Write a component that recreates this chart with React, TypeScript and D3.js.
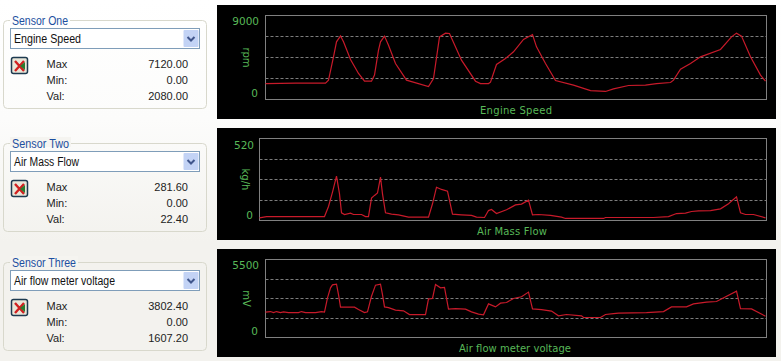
import React from "react";
import * as d3 from "d3";

const sensorTitles = ["Sensor One", "Sensor Two", "Sensor Three"];
const channelNames = ["Engine Speed", "Air Mass Flow", "Air flow meter voltage"];
const units = ["rpm", "kg/h", "mV"];
const axisMax = [9000, 520, 5500];
const readMax = ["7120.00", "281.60", "3802.40"];
const readMin = ["0.00", "0.00", "0.00"];
const readVal = ["2080.00", "22.40", "1607.20"];

const engineT = [0,30,60,63,68,71,75,78,85,93,99,106,109,113,115,119,123,130,141,163,168,174,180,184,196,210,215,223,225,231,240,248,258,267,271,280,290,308,325,340,348,363,380,391,405,408,415,425,435,455,466,471,476,485,495,500];
const engineV = [1710,1750,1750,2070,4570,6180,6820,6180,4290,2790,1960,1960,2610,5290,6180,6790,5820,3860,2070,1390,2250,6710,7110,7070,4210,1960,1710,1710,1850,3750,4390,5110,6430,6960,5640,3860,2040,1540,960,860,1140,1500,1540,1710,1820,2070,3250,3860,4570,5360,6710,7110,6790,4570,2610,1960];

const airT = [0,7,36,65,69,73,77,80,82,85,91,94,102,106,109,112,115,118,121,123,126,132,139,149,169,173,177,182,188,193,202,212,217,225,229,232,237,247,256,262,269,273,279,291,302,306,344,346,394,409,417,426,432,439,451,461,469,477,481,486,494,506];
const airV = [17,25,25,25,89,180,281,169,49,38,47,38,38,25,25,142,159,175,275,169,49,40,36,21,21,106,211,197,186,40,36,32,21,19,63,70,44,68,99,104,129,36,38,32,21,13,13,19,19,25,44,47,57,61,63,74,106,150,49,38,38,17];

const voltT = [0,5,8,11,15,18,23,33,36,40,50,56,59,62,65,67,71,73,75,89,93,99,102,106,110,115,117,119,123,130,138,144,160,163,167,170,175,179,183,190,200,206,213,218,223,230,235,241,248,256,263,267,276,286,293,301,316,318,335,340,348,353,381,398,406,421,428,441,451,471,475,486,500];
const voltV = [1790,1830,1760,1830,1760,1810,1760,1760,1830,1760,1760,1830,1790,2800,3500,3710,3760,3030,2140,2140,1970,1760,1810,2910,3690,3760,3030,2160,2110,1930,1880,1620,1620,2730,2750,3740,3500,3530,2000,2040,2000,1810,1650,1600,2370,2160,2420,2470,2750,2870,3200,2020,1970,1860,1530,1620,1530,1410,1410,1620,1690,1720,1760,1830,2160,2160,2370,2490,2540,3270,2040,2020,1500];

const times = [engineT, airT, voltT];
const values = [engineV, airV, voltV];

const chartBoxes = [
  { top: 5, bottom: 119, l: 265.5, t: 15.5, b: 99.5, dom: 501, unitX: 246, maxY: 21, zeroY: 93, titleY: 110, titleX: 516, titleW: 72, tickR: 259 },
  { top: 128, bottom: 240, l: 259.5, t: 138.5, b: 220.5, dom: 507, unitX: 245, maxY: 145, zeroY: 215, titleY: 231, titleX: 512, titleW: 70, tickR: 254 },
  { top: 249, bottom: 357, l: 265.5, t: 259.5, b: 337.5, dom: 501, unitX: 246, maxY: 265, zeroY: 331, titleY: 348, titleX: 515, titleW: 112, tickR: 259 },
];
const sideTops = [20, 143, 262];
const channelTextW = [67, 65, 101];
const sensorTextW = [56, 57, 64];
const green = "#58b858";
const uiFont = "Tahoma, 'Liberation Sans', Arial, sans-serif";
const chartFont = "'DejaVu Sans', sans-serif";

function Side({ i }: { i: number }) {
  const y0 = sideTops[i];
  const rows: [string, string][] = [["Max", readMax[i]], ["Min:", readMin[i]], ["Val:", readVal[i]]];
  return (
    <g fontFamily={uiFont}>
      <rect x={3.5} y={y0 + 0.5} width={203} height={88} rx={4} fill="none" stroke="#d8d8cc" />
      <rect x={10} y={y0 - 6} width={sensorTextW[i] + 4} height={10} fill={i === 0 ? "#fdfdfd" : "#f5f4f0"} />
      <text x={12} y={y0 + 5} fontSize={12} fill="#1c4fa0" textLength={sensorTextW[i]} lengthAdjust="spacingAndGlyphs">{sensorTitles[i]}</text>
      <rect x={10.5} y={y0 + 8.5} width={189} height={20} fill="#fff" stroke="#7f9db9" />
      <rect x={183.5} y={y0 + 10} width={15} height={17} rx={1} fill="#c3d3f5" />
      <path d={`M187.5 ${y0 + 17} l3.5 3.5 l3.5 -3.5`} fill="none" stroke="#40568c" strokeWidth={2} />
      <text x={14} y={y0 + 23} fontSize={12} fill="#111" textLength={channelTextW[i]} lengthAdjust="spacingAndGlyphs">{channelNames[i]}</text>
      <rect x={11.5} y={y0 + 37.5} width={16} height={16} rx={2} fill="#e8e6d8" stroke="#1d3a50" strokeWidth={1.5} />
      <path d={`M15 ${y0 + 41} l9 10 M24 ${y0 + 41} l-9 10`} stroke="#d02020" strokeWidth={2.4} />
      <path d={`M25 ${y0 + 42} l-5 4 l5 4 z`} fill="#2a7a30" />
      {rows.map(([label, val], k) => (
        <g key={label} fontSize={11} fill="#222">
          <text x={46.5} y={y0 + 47.5 + k * 16}>{label}</text>
          <text x={188} y={y0 + 47.5 + k * 16} textAnchor="end">{val}</text>
        </g>
      ))}
    </g>
  );
}

function Chart({ i }: { i: number }) {
  const b = chartBoxes[i];
  const x = d3.scaleLinear().domain([0, b.dom]).range([b.l, 766.5]);
  const y = d3.scaleLinear().domain([0, axisMax[i]]).range([b.b, b.t]);
  const pts = times[i].map((t, k) => [t, values[i][k]] as [number, number]);
  const line = d3.line<[number, number]>().x((d) => x(d[0])).y((d) => y(d[1]));
  const grid = [0.25, 0.5, 0.75].map((f) => Math.round(y(axisMax[i] * f) - 0.5) + 0.5);
  return (
    <g fontFamily={chartFont}>
      <rect x={217} y={b.top} width={559} height={b.bottom - b.top} fill="#000" />
      {grid.map((g) => (
        <line key={g} x1={b.l} x2={766.5} y1={g} y2={g} stroke="#7c7c7c" strokeDasharray="3 2" />
      ))}
      <rect x={b.l} y={b.t} width={766.5 - b.l} height={b.b - b.t} fill="none" stroke="#808080" />
      <path d={line(pts) ?? ""} fill="none" stroke="#c81a2a" strokeWidth={1.2} />
      <g fill={green} fontSize={10.5}>
        <text x={b.tickR} y={b.maxY + 4} textAnchor="end">{axisMax[i]}</text>
        <text x={b.tickR - 1} y={b.zeroY + 4} textAnchor="end">0</text>
        <text transform={`translate(${b.unitX},${(b.t + b.b) / 2}) rotate(90)`} textAnchor="middle" dy={3.5} fontSize={10}>{units[i]}</text>
        <text x={b.titleX} y={b.titleY + 4} textAnchor="middle" fontSize={10} textLength={b.titleW}>{channelNames[i]}</text>
      </g>
    </g>
  );
}

export default function App() {
  return (
    <svg width={781} height={361} style={{ position: "fixed", left: 0, top: 0 }}>
      <defs>
        <linearGradient id="bg" x1="0" y1="0" x2="0" y2="1">
          <stop offset="0" stopColor="#ffffff" />
          <stop offset="0.33" stopColor="#fcfcfb" />
          <stop offset="0.67" stopColor="#f3f2ee" />
          <stop offset="1" stopColor="#f3f2ee" />
        </linearGradient>
      </defs>
      <rect width={781} height={361} fill="url(#bg)" />
      {[0, 1, 2].map((i) => (
        <g key={i}>
          <Side i={i} />
          <Chart i={i} />
        </g>
      ))}
    </svg>
  );
}
